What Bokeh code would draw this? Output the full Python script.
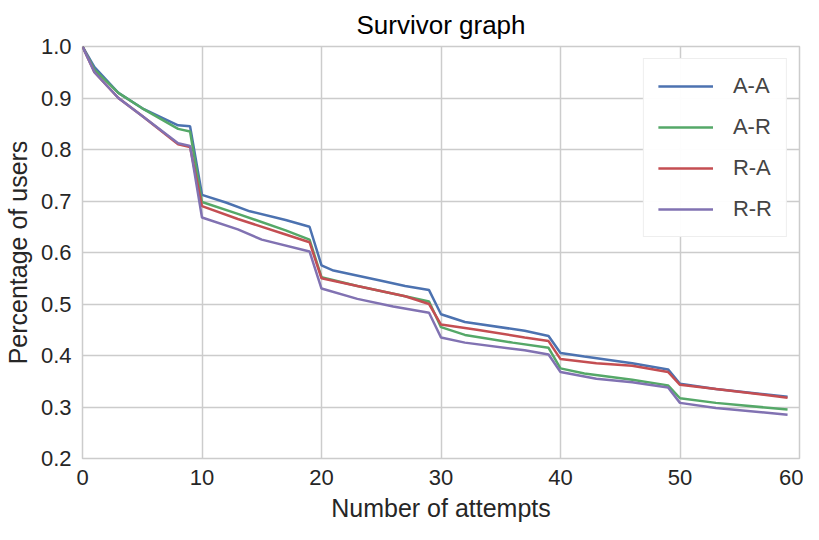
from bokeh.plotting import figure
from bokeh.models import Legend, LegendItem, FixedTicker, NumeralTickFormatter
from bokeh.embed import file_html
from bokeh.resources import INLINE

# values (attempt number, fraction of users left)
x_aa = [0, 1, 3, 5, 8, 9, 10, 12, 14, 17, 19, 20, 21, 25, 27, 29, 30, 32, 37, 39, 40, 42, 46, 49, 50, 53, 59]
y_aa = [1.0, 0.96, 0.91, 0.88, 0.847, 0.845, 0.712, 0.697, 0.68, 0.663, 0.65, 0.575, 0.565, 0.545, 0.535, 0.527,
        0.48, 0.465, 0.448, 0.438, 0.405, 0.398, 0.385, 0.373, 0.345, 0.335, 0.32]
x_ar = [0, 1, 3, 5, 8, 9, 10, 13, 17, 19, 20, 23, 27, 29, 30, 32, 36, 39, 40, 42, 46, 49, 50, 53, 59]
y_ar = [1.0, 0.955, 0.91, 0.88, 0.84, 0.835, 0.698, 0.675, 0.643, 0.625, 0.552, 0.535, 0.515, 0.505,
        0.455, 0.44, 0.425, 0.415, 0.375, 0.365, 0.353, 0.342, 0.317, 0.308, 0.295]
x_ra = [0, 1, 3, 5, 8, 9, 10, 13, 17, 19, 20, 23, 27, 29, 30, 33, 37, 39, 40, 43, 46, 49, 50, 53, 59]
y_ra = [1.0, 0.95, 0.9, 0.865, 0.81, 0.805, 0.69, 0.665, 0.635, 0.62, 0.55, 0.535, 0.515, 0.5,
        0.46, 0.45, 0.435, 0.428, 0.393, 0.385, 0.38, 0.368, 0.343, 0.335, 0.318]
x_rr = [0, 1, 3, 5, 8, 9, 10, 13, 15, 19, 20, 23, 26, 29, 30, 32, 37, 39, 40, 43, 46, 49, 50, 53, 59]
y_rr = [1.0, 0.95, 0.9, 0.865, 0.812, 0.807, 0.668, 0.645, 0.625, 0.602, 0.53, 0.51, 0.495, 0.483,
        0.435, 0.425, 0.41, 0.402, 0.368, 0.355, 0.348, 0.338, 0.308, 0.298, 0.285]

labels = ["A-A", "A-R", "R-A", "R-R"]
colors = ["#4C72B0", "#55A868", "#C44E52", "#8172B2"]
series = [(x_aa, y_aa), (x_ar, y_ar), (x_ra, y_ra), (x_rr, y_rr)]

font = "Liberation Sans"

p = figure(width=803, height=524, x_range=(0, 60), y_range=(0.2, 1.0),
           title="Survivor graph", x_axis_label="Number of attempts",
           y_axis_label="Percentage of users",
           output_backend="svg", toolbar_location=None)
p.min_border_left = 10
p.min_border_right = 4
p.title.align = "center"
p.title.text_font = font
p.title.text_font_size = "26px"
p.title.text_font_style = "normal"
p.title.text_color = "black"
p.title.standoff = 14

for ax in (p.xaxis, p.yaxis):
    ax.axis_label_text_font = font
    ax.axis_label_text_font_size = "25px"
    ax.axis_label_text_font_style = "normal"
    ax.axis_label_text_color = "#262626"
    ax.axis_label_standoff = 6
    ax.major_label_text_font = font
    ax.major_label_text_font_size = "22px"
    ax.major_label_text_color = "#262626"
    ax.axis_line_color = None
    ax.major_tick_line_color = None
    ax.minor_tick_line_color = None
p.xaxis.ticker = FixedTicker(ticks=[0, 10, 20, 30, 40, 50, 60])
p.yaxis.ticker = FixedTicker(ticks=[0.2, 0.3, 0.4, 0.5, 0.6, 0.7, 0.8, 0.9, 1.0])
p.yaxis.formatter = NumeralTickFormatter(format="0.0")
p.xgrid.grid_line_color = "#cccccc"
p.ygrid.grid_line_color = "#cccccc"
p.xgrid.grid_line_width = 1.5
p.ygrid.grid_line_width = 1.5
p.outline_line_color = "#cccccc"
p.outline_line_width = 1.5

items = []
for (xs, ys), lab, col in zip(series, labels, colors):
    r = p.line(xs, ys, color=col, line_width=2.5)
    items.append(LegendItem(label=lab, renderers=[r]))

legend = Legend(items=items, location="top_right")
legend.label_text_font = font
legend.label_text_font_size = "22px"
legend.glyph_width = 55
legend.label_standoff = 20
legend.spacing = 15
legend.padding = 14
legend.margin = 12
legend.border_line_color = "#dddddd"
p.add_layout(legend)

open("out.html", "w").write(file_html(p, INLINE))
